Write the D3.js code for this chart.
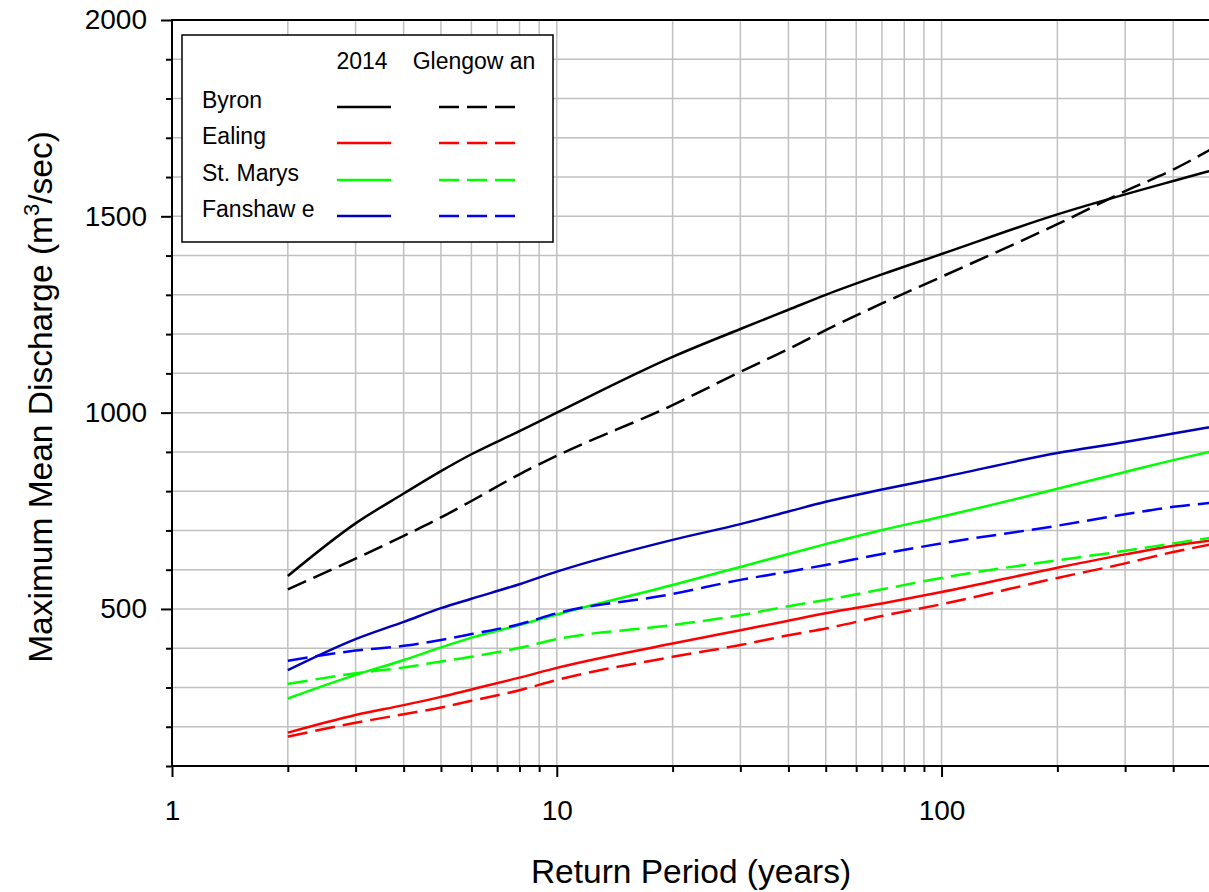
<!DOCTYPE html>
<html>
<head>
<meta charset="utf-8">
<script src="https://cdn.jsdelivr.net/npm/d3@7"></script>
<style>
  body { margin: 0; background: #fff; }
  svg text { font-family: 'Liberation Sans', Arial, sans-serif; fill: #000; }
</style>
</head>
<body>
<script>
// return periods (years) where the curves were read
const returnPeriods = [2, 3, 4, 5, 6, 8, 10, 20, 30, 40, 50, 70, 100, 200, 300, 400, 500]

// maximum mean discharge, m3/sec
const byron2014 = [584, 718, 794, 851, 894, 953, 1000, 1142, 1213, 1262, 1300, 1352, 1404, 1505, 1556, 1590, 1616]
const byronGlengowan = [550, 628, 686, 733, 775, 843, 890, 1019, 1104, 1162, 1210, 1278, 1346, 1480, 1564, 1619, 1670]
const ealing2014 = [185, 230, 255, 276, 295, 325, 350, 412, 446, 470, 489, 514, 543, 605, 639, 661, 674]
const ealingGlengowan = [175, 210, 232, 249, 266, 293, 319, 378, 408, 433, 450, 482, 512, 579, 616, 645, 664]
const stMarys2014 = [272, 332, 370, 402, 427, 459, 486, 561, 607, 640, 665, 701, 735, 806, 849, 879, 901]
const stMarysGlengowan = [309, 336, 351, 366, 378, 401, 423, 459, 484, 507, 523, 550, 579, 624, 648, 667, 681]
const fanshawe2014 = [344, 423, 467, 502, 526, 563, 595, 676, 716, 748, 773, 804, 835, 897, 925, 947, 963]
const fanshaweGlengowan = [368, 394, 406, 421, 436, 461, 489, 538, 574, 595, 612, 640, 667, 712, 741, 760, 770]

const stations = ['Byron', 'Ealing', 'St. Marys', 'Fanshaw e']
const scenarios = ['2014', 'Glengow an']
const xMajorTicks = [1, 10, 100]
const yMajorTicks = [500, 1000, 1500, 2000]

const width = 1209
const height = 892
const margin = { left: 172, top: 20, bottom: 126 }

const series = [
  { station: 0, scenario: 0, values: byron2014, color: '#000000' },
  { station: 0, scenario: 1, values: byronGlengowan, color: '#000000' },
  { station: 1, scenario: 0, values: ealing2014, color: '#ff0000' },
  { station: 1, scenario: 1, values: ealingGlengowan, color: '#ff0000' },
  { station: 2, scenario: 0, values: stMarys2014, color: '#00ff00' },
  { station: 2, scenario: 1, values: stMarysGlengowan, color: '#00ff00' },
  { station: 3, scenario: 0, values: fanshawe2014, color: '#0000b8' },
  { station: 3, scenario: 1, values: fanshaweGlengowan, color: '#0000ff' }
]
const dash = '20,8'

const svg = d3.select('body').append('svg')
  .attr('width', width)
  .attr('height', height)

const x = d3.scaleLog()
  .domain([1, 500])
  .range([margin.left, 1210.5])

const y = d3.scaleLinear()
  .domain([100, 2000])
  .range([height - margin.bottom, margin.top])

const xAll = x.ticks()
const yAll = d3.range(100, 2001, 100)

// grid
const grid = svg.append('g').attr('class', 'grid')
  .attr('stroke', '#c0c0c0')
  .attr('stroke-width', 1.5)
grid.selectAll('line.v')
  .data(xAll.filter(d => d > 1))
  .enter().append('line')
  .attr('class', 'v')
  .attr('x1', d => x(d)).attr('x2', d => x(d))
  .attr('y1', y(100)).attr('y2', y(2000))
grid.selectAll('line.h')
  .data(yAll.filter(d => d > 100 && d < 2000))
  .enter().append('line')
  .attr('class', 'h')
  .attr('x1', x(1)).attr('x2', width)
  .attr('y1', d => y(d)).attr('y2', d => y(d))

// curves
svg.append('clipPath').attr('id', 'plot-clip')
  .append('rect')
  .attr('x', x(1)).attr('y', y(2000))
  .attr('width', width - x(1)).attr('height', y(100) - y(2000))

const line = d3.line()
  .curve(d3.curveMonotoneX)
  .x(d => x(d[0]))
  .y(d => y(d[1]))

svg.append('g')
  .attr('clip-path', 'url(#plot-clip)')
  .selectAll('path')
  .data(series)
  .enter().append('path')
  .attr('d', s => line(returnPeriods.map((t, i) => [t, s.values[i]])))
  .attr('fill', 'none')
  .attr('stroke', s => s.color)
  .attr('stroke-width', 2.5)
  .attr('stroke-dasharray', s => s.scenario === 1 ? dash : null)

// axes
function styleAxis (g) {
  g.select('.domain').remove()
  g.selectAll('line').attr('stroke', '#000').attr('stroke-width', 2)
  g.selectAll('text').attr('font-size', 28)
}

svg.append('g')
  .attr('transform', `translate(0,${y(100)})`)
  .call(d3.axisBottom(x).tickValues(xAll.filter(d => xMajorTicks.indexOf(d) < 0)).tickSize(6).tickFormat(''))
  .call(styleAxis)
svg.append('g')
  .attr('transform', `translate(0,${y(100)})`)
  .call(d3.axisBottom(x).tickValues(xMajorTicks).tickSize(11).tickPadding(23).tickFormat(d3.format('d')))
  .call(styleAxis)

svg.append('g')
  .attr('transform', `translate(${x(1)},0)`)
  .call(d3.axisLeft(y).tickValues(yAll.filter(d => yMajorTicks.indexOf(d) < 0)).tickSize(6).tickFormat(''))
  .call(styleAxis)
svg.append('g')
  .attr('transform', `translate(${x(1)},0)`)
  .call(d3.axisLeft(y).tickValues(yMajorTicks).tickSize(11).tickPadding(14).tickFormat(d3.format('d')))
  .call(styleAxis)

// frame lines
svg.append('line')
  .attr('x1', x(1)).attr('x2', width)
  .attr('y1', y(2000)).attr('y2', y(2000))
  .attr('stroke', '#000').attr('stroke-width', 2)
svg.append('line')
  .attr('x1', x(1)).attr('x2', width)
  .attr('y1', y(100)).attr('y2', y(100))
  .attr('stroke', '#000').attr('stroke-width', 2)
svg.append('line')
  .attr('x1', x(1)).attr('x2', x(1))
  .attr('y1', y(2000) - 1).attr('y2', y(100) + 1)
  .attr('stroke', '#000').attr('stroke-width', 2)

// axis titles
svg.append('text')
  .attr('x', 691)
  .attr('y', 883)
  .attr('text-anchor', 'middle')
  .attr('font-size', 33.5)
  .text('Return Period (years)')

const yTitle = svg.append('text')
  .attr('transform', 'translate(52,397) rotate(-90)')
  .attr('text-anchor', 'middle')
  .attr('font-size', 33.5)
yTitle.append('tspan').text('Maximum Mean Discharge (m')
yTitle.append('tspan').attr('dy', -13).attr('font-size', 22).text('3')
yTitle.append('tspan').attr('dy', 13).text('/sec)')

// legend
const legend = svg.append('g').attr('class', 'legend')
legend.append('rect')
  .attr('x', 182).attr('y', 35)
  .attr('width', 371).attr('height', 207)
  .attr('fill', '#fff')
  .attr('stroke', '#000')
  .attr('stroke-width', 1.5)

const colX = [{ x1: 337, x2: 391, tx: 362 }, { x1: 439, x2: 517, tx: 474 }]
legend.selectAll('text.head')
  .data(scenarios)
  .enter().append('text')
  .attr('class', 'head')
  .attr('x', (d, i) => colX[i].tx)
  .attr('y', 69)
  .attr('text-anchor', 'middle')
  .attr('font-size', 23)
  .text(d => d)

const rowY = [107, 143, 180, 216]
legend.selectAll('text.row')
  .data(stations)
  .enter().append('text')
  .attr('class', 'row')
  .attr('x', 202)
  .attr('y', (d, i) => rowY[i] + 1)
  .attr('font-size', 23)
  .text(d => d)

legend.selectAll('line')
  .data(series)
  .enter().append('line')
  .attr('x1', s => colX[s.scenario].x1)
  .attr('x2', s => colX[s.scenario].x2)
  .attr('y1', s => rowY[s.station])
  .attr('y2', s => rowY[s.station])
  .attr('stroke', s => s.color)
  .attr('stroke-width', 2.5)
  .attr('stroke-dasharray', s => s.scenario === 1 ? dash : null)
</script>
</body>
</html>
